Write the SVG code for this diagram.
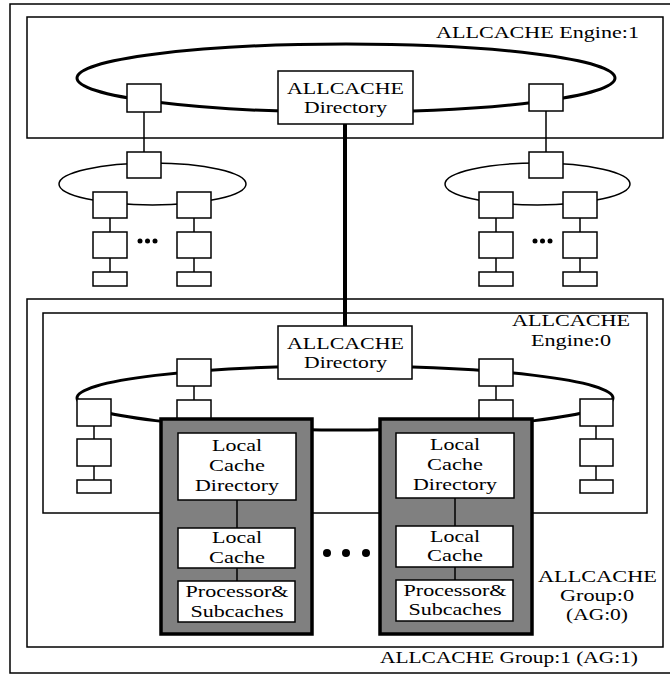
<svg xmlns="http://www.w3.org/2000/svg" width="670" height="675" viewBox="0 0 670 675">
<style>
.frame{fill:none;stroke:#000;stroke-width:1.5}
.sq{fill:#fff;stroke:#000;stroke-width:1.5}
.ring{fill:none;stroke:#000;stroke-width:3}
.thin{fill:none;stroke:#000;stroke-width:1.5}
.ln{stroke:#000;stroke-width:1.5}
.gray{fill:#808080;stroke:#000;stroke-width:3.5}
.dot{fill:#000}
text{font-family:"Liberation Serif","Times New Roman",serif;font-size:17px;fill:#000}
</style>
<rect width="670" height="675" fill="#fff"/>
<g id="frames">
<rect class="frame" x="10" y="4" width="672" height="669"/>
<rect id="engine1-box" class="frame" x="27" y="17" width="636" height="121"/>
<rect id="group0-box" class="frame" x="27" y="299" width="636" height="348"/>
<rect id="engine0-box" class="frame" x="43" y="313" width="604" height="200"/>
</g>
<g id="rings">
<ellipse class="ring" cx="346" cy="78" rx="269" ry="34"/>
<ellipse class="thin" cx="152.5" cy="184" rx="93.5" ry="21"/>
<ellipse class="thin" cx="537.5" cy="184" rx="92.5" ry="21"/>
<ellipse class="ring" cx="345" cy="398" rx="268" ry="32"/>
</g>
<g id="connectors">
<line class="ln" x1="144" y1="112" x2="144" y2="152"/>
<line class="ln" x1="546" y1="111" x2="546" y2="152"/>
<line x1="345" y1="124" x2="345" y2="326" stroke="#000" stroke-width="4"/>
<line class="ln" x1="110" y1="218" x2="110" y2="272"/>
<line class="ln" x1="194" y1="218" x2="194" y2="272"/>
<line class="ln" x1="496" y1="218" x2="496" y2="272"/>
<line class="ln" x1="580" y1="218" x2="580" y2="272"/>
<line class="ln" x1="94" y1="426" x2="94" y2="480"/>
<line class="ln" x1="596" y1="426" x2="596" y2="480"/>
<line class="ln" x1="194" y1="386" x2="194" y2="400"/>
<line class="ln" x1="496" y1="386" x2="496" y2="400"/>
</g>
<g id="engine1-nodes">
<rect class="sq" x="127" y="84" width="34" height="28"/>
<rect class="sq" x="529" y="84" width="34" height="27"/>
</g>
<g id="dir1">
<rect class="sq" x="278" y="71" width="135" height="53"/>
<text x="287" y="94" textLength="117" lengthAdjust="spacingAndGlyphs">ALLCACHE</text>
<text x="304" y="113" textLength="83" lengthAdjust="spacingAndGlyphs">Directory</text>
</g>
<g id="cluster-left">
<rect class="sq" x="127" y="152" width="34" height="26"/>
<rect class="sq" x="93" y="192" width="34" height="26"/>
<rect class="sq" x="177" y="192" width="34" height="26"/>
<rect class="sq" x="93" y="232" width="34" height="26"/>
<rect class="sq" x="177" y="232" width="34" height="26"/>
<rect class="sq" x="93" y="272" width="34" height="14"/>
<rect class="sq" x="177" y="272" width="34" height="14"/>
<circle class="dot" cx="140" cy="241" r="2.5"/>
<circle class="dot" cx="147.5" cy="241" r="2.5"/>
<circle class="dot" cx="155" cy="241" r="2.5"/>
</g>
<g id="cluster-right">
<rect class="sq" x="529" y="152" width="34" height="26"/>
<rect class="sq" x="479" y="192" width="34" height="26"/>
<rect class="sq" x="563" y="192" width="34" height="26"/>
<rect class="sq" x="479" y="232" width="34" height="26"/>
<rect class="sq" x="563" y="232" width="34" height="26"/>
<rect class="sq" x="479" y="272" width="34" height="14"/>
<rect class="sq" x="563" y="272" width="34" height="14"/>
<circle class="dot" cx="535" cy="241" r="2.5"/>
<circle class="dot" cx="542.5" cy="241" r="2.5"/>
<circle class="dot" cx="550" cy="241" r="2.5"/>
</g>
<g id="engine0-nodes">
<rect class="sq" x="177" y="359" width="34" height="27"/>
<rect class="sq" x="479" y="359" width="34" height="27"/>
<rect class="sq" x="177" y="400" width="34" height="27"/>
<rect class="sq" x="479" y="400" width="34" height="27"/>
<rect class="sq" x="77" y="399" width="34" height="27"/>
<rect class="sq" x="77" y="439" width="34" height="27"/>
<rect class="sq" x="77" y="480" width="34" height="13"/>
<rect class="sq" x="580" y="399" width="33" height="27"/>
<rect class="sq" x="580" y="439" width="33" height="27"/>
<rect class="sq" x="580" y="480" width="33" height="13"/>
</g>
<g id="dir0">
<rect class="sq" x="278" y="326" width="134" height="53"/>
<text x="287" y="349" textLength="117" lengthAdjust="spacingAndGlyphs">ALLCACHE</text>
<text x="304" y="368" textLength="83" lengthAdjust="spacingAndGlyphs">Directory</text>
</g>
<g id="node-left">
<rect class="gray" x="161" y="419" width="151" height="215"/>
<line class="ln" x1="237" y1="500" x2="237" y2="581"/>
<rect class="sq" x="178" y="433" width="118" height="67"/>
<text x="212" y="451" textLength="50" lengthAdjust="spacingAndGlyphs">Local</text>
<text x="209" y="471" textLength="56" lengthAdjust="spacingAndGlyphs">Cache</text>
<text x="195" y="491" textLength="84" lengthAdjust="spacingAndGlyphs">Directory</text>
<rect class="sq" x="178" y="528" width="117" height="40"/>
<text x="212" y="543" textLength="50" lengthAdjust="spacingAndGlyphs">Local</text>
<text x="209" y="563" textLength="56" lengthAdjust="spacingAndGlyphs">Cache</text>
<rect class="sq" x="178" y="581" width="117" height="41"/>
<text x="185.5" y="597" textLength="103" lengthAdjust="spacingAndGlyphs">Processor&amp;</text>
<text x="190.5" y="617" textLength="93" lengthAdjust="spacingAndGlyphs">Subcaches</text>
</g>
<g id="node-right">
<rect class="gray" x="380" y="419" width="152" height="215"/>
<line class="ln" x1="455" y1="498" x2="455" y2="580"/>
<rect class="sq" x="396" y="433" width="118" height="65"/>
<text x="430" y="450" textLength="50" lengthAdjust="spacingAndGlyphs">Local</text>
<text x="427" y="470" textLength="56" lengthAdjust="spacingAndGlyphs">Cache</text>
<text x="413" y="490" textLength="84" lengthAdjust="spacingAndGlyphs">Directory</text>
<rect class="sq" x="396" y="526" width="117" height="41"/>
<text x="430" y="542" textLength="50" lengthAdjust="spacingAndGlyphs">Local</text>
<text x="427" y="561" textLength="56" lengthAdjust="spacingAndGlyphs">Cache</text>
<rect class="sq" x="396" y="580" width="117" height="41"/>
<text x="403.5" y="596" textLength="103" lengthAdjust="spacingAndGlyphs">Processor&amp;</text>
<text x="408.5" y="615" textLength="93" lengthAdjust="spacingAndGlyphs">Subcaches</text>
</g>
<g id="ellipsis">
<circle class="dot" cx="327" cy="553" r="4"/>
<circle class="dot" cx="346" cy="553" r="4"/>
<circle class="dot" cx="366" cy="553" r="4"/>
</g>
<g id="labels">
<text x="436" y="38" textLength="203" lengthAdjust="spacingAndGlyphs">ALLCACHE Engine:1</text>
<text x="512" y="326" textLength="118" lengthAdjust="spacingAndGlyphs">ALLCACHE</text>
<text x="531" y="346" textLength="80" lengthAdjust="spacingAndGlyphs">Engine:0</text>
<text x="538" y="582" textLength="119" lengthAdjust="spacingAndGlyphs">ALLCACHE</text>
<text x="560" y="601" textLength="74" lengthAdjust="spacingAndGlyphs">Group:0</text>
<text x="566" y="620" textLength="62" lengthAdjust="spacingAndGlyphs">(AG:0)</text>
<text x="380" y="663" textLength="258" lengthAdjust="spacingAndGlyphs">ALLCACHE Group:1 (AG:1)</text>
</g>
</svg>
